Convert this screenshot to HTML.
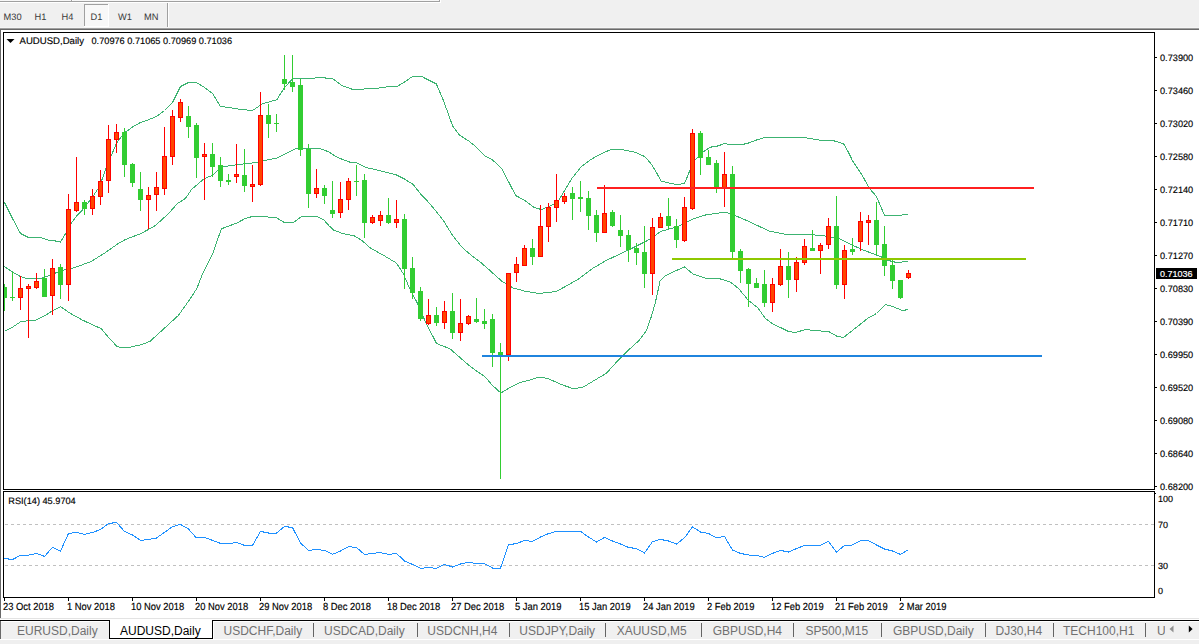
<!DOCTYPE html>
<html><head><meta charset="utf-8"><style>
html,body{margin:0;padding:0;width:1199px;height:644px;overflow:hidden;background:#f0f0f0;font-family:"Liberation Sans", sans-serif;}
svg{display:block}
svg text{shape-rendering:auto}
polyline{shape-rendering:crispEdges}
</style></head><body>
<svg width="1199" height="644" viewBox="0 0 1199 644" shape-rendering="crispEdges" font-family='"Liberation Sans", sans-serif'><rect x="0" y="0" width="1199" height="644" fill="#f0f0f0" />
<rect x="0" y="0" width="440" height="1" fill="#f7f7f7" />
<rect x="0" y="1" width="440" height="1" fill="#a0a0a0" />
<rect x="0" y="2" width="441" height="1" fill="#ffffff" />
<rect x="439" y="0" width="1" height="2" fill="#a0a0a0" />
<rect x="440" y="0" width="1" height="3" fill="#ffffff" />
<rect x="71" y="0" width="1" height="1" fill="#a0a0a0" />
<rect x="72" y="0" width="1" height="1" fill="#ffffff" />
<rect x="84" y="4" width="25" height="23" fill="#f8f8f8" />
<rect x="84" y="4" width="25" height="1" fill="#a0a0a0" />
<rect x="84" y="4" width="1" height="23" fill="#a0a0a0" />
<rect x="84" y="26" width="25" height="1" fill="#ffffff" />
<rect x="108" y="4" width="1" height="23" fill="#ffffff" />
<text x="3.5" y="19.8" font-size="9.3" fill="#3a3a3a" text-anchor="start" text-rendering="geometricPrecision">M30</text>
<text x="34.5" y="19.8" font-size="9.3" fill="#3a3a3a" text-anchor="start" text-rendering="geometricPrecision">H1</text>
<text x="61.5" y="19.8" font-size="9.3" fill="#3a3a3a" text-anchor="start" text-rendering="geometricPrecision">H4</text>
<text x="90.5" y="19.8" font-size="9.3" fill="#3a3a3a" text-anchor="start" text-rendering="geometricPrecision">D1</text>
<text x="118" y="19.8" font-size="9.3" fill="#3a3a3a" text-anchor="start" text-rendering="geometricPrecision">W1</text>
<text x="144" y="19.8" font-size="9.3" fill="#3a3a3a" text-anchor="start" text-rendering="geometricPrecision">MN</text>
<rect x="167" y="3" width="1" height="25" fill="#a0a0a0" />
<rect x="168" y="3" width="1" height="25" fill="#ffffff" />
<rect x="0" y="27" width="1199" height="1" fill="#f5f5f5" />
<rect x="0" y="28" width="1199" height="1" fill="#a0a0a0" />
<rect x="0" y="29" width="1199" height="1" fill="#696969" />
<rect x="0" y="29" width="1" height="589" fill="#696969" />
<rect x="1" y="30" width="1198" height="588" fill="#ffffff" />
<defs><clipPath id="cm"><rect x="4" y="33" width="1150" height="456"/></clipPath><clipPath id="cr"><rect x="4" y="492" width="1150" height="105"/></clipPath></defs>
<g clip-path="url(#cm)">
<polyline points="4.5,202.5 12.5,218.5 20.5,233.5 27.5,237.0 38.5,237.0 48.5,240.1 55.5,241.0 60.5,242.0 67.0,231.1 71.7,222.7 77.3,215.2 82.8,209.6 88.4,202.2 94.0,194.7 99.6,186.4 105.2,170.5 110.8,156.6 116.4,143.5 123.8,133.3 134.2,125.9 140.5,122.5 145.9,120.8 156.5,116.5 164.5,110.5 172.5,102.5 180.5,86.5 188.5,82.5 196.5,82.5 204.5,87.5 212.5,93.5 220.5,106.5 228.5,107.5 240.5,109.5 252.5,110.5 262.7,103.7 276.8,99.8 283.8,88.5 293.1,78.0 304.8,78.7 321.2,77.6 332.8,78.7 342.2,85.7 351.5,89.0 363.9,89.0 375.5,88.5 387.2,86.9 396.5,86.7 403.5,82.7 412.9,76.2 421.1,76.2 429.3,80.4 436.3,83.9 443.3,100.2 448.0,113.1 452.6,125.9 459.7,135.3 469.0,141.1 476.0,146.9 485.4,156.3 492.4,159.8 501.7,168.5 508.7,182.0 515.7,195.5 525.1,200.7 534.4,207.7 541.5,209.5 550.8,205.8 557.8,201.9 564.8,190.2 571.8,178.5 581.2,166.8 590.5,159.8 599.8,154.4 611.0,149.5 623.9,150.0 635.5,152.4 644.9,156.6 651.9,164.8 656.6,172.9 661.2,181.1 670.6,183.4 677.6,184.6 684.6,183.4 689.3,171.8 694.0,161.2 703.3,151.9 710.3,147.2 717.3,146.1 724.3,143.7 731.3,144.4 740.5,145.0 748.5,143.0 756.5,140.0 763.2,138.0 787.5,137.9 806.1,137.9 820.1,140.2 834.1,140.9 843.5,143.7 848.2,151.9 852.8,161.2 862.2,175.3 869.2,188.1 876.5,196.5 884.5,215.5 896.5,215.5 908.5,214.5" fill="none" stroke="#3cb371" stroke-width="1" />
<polyline points="4.5,266.5 12.2,271.9 20.4,276.5 28.0,278.9 39.0,278.9 49.5,275.4 61.2,270.7 71.8,268.4 82.3,264.8 91.5,261.3 105.5,252.5 117.3,244.2 125.5,239.5 140.5,233.7 148.5,229.5 155.5,225.5 168.5,213.5 177.5,203.5 185.5,198.4 191.5,189.5 204.3,178.5 212.5,175.5 220.7,167.5 224.5,166.5 244.1,163.8 255.7,162.6 267.5,159.8 276.8,158.2 286.1,153.5 295.5,148.8 304.8,148.1 318.8,148.1 328.2,151.6 337.5,157.5 340.5,158.6 349.8,162.1 356.9,162.8 366.2,167.5 380.2,170.8 395.4,174.5 403.6,178.5 412.9,184.3 422.3,196.0 426.9,200.5 434.0,208.7 443.3,220.4 452.6,235.5 462.0,247.2 471.3,255.4 480.7,262.4 490.0,270.6 501.7,281.1 513.4,288.1 525.1,291.2 539.1,293.5 555.5,291.6 564.8,286.9 578.8,278.8 592.8,268.3 606.9,260.1 620.5,253.8 628.5,250.0 647.2,240.7 661.2,231.3 677.6,226.7 694.0,218.5 705.6,215.0 724.3,212.2 731.3,213.8 750.0,222.0 768.7,230.9 787.5,234.8 806.1,234.1 824.8,236.0 838.8,238.4 852.8,245.4 864.5,250.5 880.5,256.5 888.5,260.5 896.5,262.5 908.5,261.5" fill="none" stroke="#3cb371" stroke-width="1" />
<polyline points="4.5,331.3 12.2,327.4 21.5,321.1 31.5,320.9 36.7,319.8 44.9,315.7 51.9,311.0 60.7,306.8 70.5,313.5 82.3,320.0 94.0,325.5 101.0,328.5 108.0,336.7 117.3,346.8 126.7,347.9 140.5,344.9 150.0,341.4 164.1,328.5 178.1,315.7 189.5,299.9 196.8,288.5 203.3,272.1 213.1,252.6 221.3,228.9 229.4,225.7 235.9,223.5 244.1,219.1 251.4,216.7 265.3,216.7 276.7,218.0 284.9,222.9 293.0,222.9 301.2,216.7 317.5,216.7 324.0,220.0 328.9,225.7 333.8,230.1 341.9,233.3 354.5,236.0 361.5,240.2 370.9,248.4 382.5,254.7 396.5,263.1 403.5,274.1 410.5,290.5 417.5,303.3 424.5,319.7 431.5,333.7 436.3,343.0 440.5,345.1 449.8,348.6 459.2,356.8 468.5,365.0 477.9,372.0 484.9,376.7 491.9,384.8 500.8,393.0 510.6,387.2 519.9,382.5 529.3,380.2 538.6,377.1 548.0,378.5 562.0,384.8 573.7,388.8 583.0,387.2 594.7,380.2 606.4,373.2 618.1,360.3 627.4,351.0 639.1,340.5 646.1,331.1 650.8,318.3 655.5,301.9 660.1,280.9 664.8,276.2 674.1,271.5 684.7,266.9 692.8,273.9 706.9,278.5 720.5,279.0 730.5,282.2 738.5,288.5 748.5,300.5 757.5,307.5 765.5,318.5 773.5,324.5 780.5,327.5 788.5,331.5 795.5,332.5 805.5,329.5 813.5,330.5 828.5,331.5 837.5,336.5 843.5,337.5 857.5,326.5 867.5,318.5 876.5,313.5 885.5,304.5 892.5,306.5 902.5,310.5 908.5,309.5" fill="none" stroke="#3cb371" stroke-width="1" />
<rect x="4" y="284" width="1" height="27" fill="#32cd32" />
<rect x="2" y="287" width="5" height="11" fill="#32cd32" />
<rect x="12" y="272" width="1" height="29" fill="#32cd32" />
<rect x="10" y="297" width="5" height="1" fill="#32cd32" />
<rect x="20" y="276" width="1" height="34" fill="#ff0000" />
<rect x="18" y="288" width="5" height="10" fill="#ff0000" />
<rect x="19" y="289" width="3" height="8" fill="#ff4500" />
<rect x="28" y="284" width="1" height="54" fill="#ff0000" />
<rect x="26" y="286" width="5" height="3" fill="#ff0000" />
<rect x="27" y="287" width="3" height="1" fill="#ff4500" />
<rect x="36" y="273" width="1" height="16" fill="#ff0000" />
<rect x="34" y="281" width="5" height="7" fill="#ff0000" />
<rect x="35" y="282" width="3" height="5" fill="#ff4500" />
<rect x="44" y="269" width="1" height="28" fill="#32cd32" />
<rect x="42" y="278" width="5" height="19" fill="#32cd32" />
<rect x="52" y="259" width="1" height="56" fill="#ff0000" />
<rect x="50" y="268" width="5" height="28" fill="#ff0000" />
<rect x="51" y="269" width="3" height="26" fill="#ff4500" />
<rect x="60" y="264" width="1" height="35" fill="#32cd32" />
<rect x="58" y="267" width="5" height="18" fill="#32cd32" />
<rect x="68" y="194" width="1" height="107" fill="#ff0000" />
<rect x="66" y="209" width="5" height="76" fill="#ff0000" />
<rect x="67" y="210" width="3" height="74" fill="#ff4500" />
<rect x="76" y="157" width="1" height="55" fill="#ff0000" />
<rect x="74" y="202" width="5" height="9" fill="#ff0000" />
<rect x="75" y="203" width="3" height="7" fill="#ff4500" />
<rect x="84" y="200" width="1" height="15" fill="#32cd32" />
<rect x="82" y="202" width="5" height="7" fill="#32cd32" />
<rect x="92" y="189" width="1" height="26" fill="#ff0000" />
<rect x="90" y="196" width="5" height="13" fill="#ff0000" />
<rect x="91" y="197" width="3" height="11" fill="#ff4500" />
<rect x="100" y="170" width="1" height="35" fill="#ff0000" />
<rect x="98" y="181" width="5" height="16" fill="#ff0000" />
<rect x="99" y="182" width="3" height="14" fill="#ff4500" />
<rect x="108" y="125" width="1" height="68" fill="#ff0000" />
<rect x="106" y="139" width="5" height="42" fill="#ff0000" />
<rect x="107" y="140" width="3" height="40" fill="#ff4500" />
<rect x="116" y="124" width="1" height="29" fill="#ff0000" />
<rect x="114" y="132" width="5" height="8" fill="#ff0000" />
<rect x="115" y="133" width="3" height="6" fill="#ff4500" />
<rect x="124" y="128" width="1" height="49" fill="#32cd32" />
<rect x="122" y="132" width="5" height="33" fill="#32cd32" />
<rect x="132" y="163" width="1" height="24" fill="#32cd32" />
<rect x="130" y="164" width="5" height="19" fill="#32cd32" />
<rect x="140" y="172" width="1" height="39" fill="#32cd32" />
<rect x="138" y="189" width="5" height="11" fill="#32cd32" />
<rect x="148" y="187" width="1" height="42" fill="#ff0000" />
<rect x="146" y="195" width="5" height="5" fill="#ff0000" />
<rect x="147" y="196" width="3" height="3" fill="#ff4500" />
<rect x="156" y="172" width="1" height="39" fill="#ff0000" />
<rect x="154" y="187" width="5" height="8" fill="#ff0000" />
<rect x="155" y="188" width="3" height="6" fill="#ff4500" />
<rect x="164" y="127" width="1" height="68" fill="#ff0000" />
<rect x="162" y="156" width="5" height="33" fill="#ff0000" />
<rect x="163" y="157" width="3" height="31" fill="#ff4500" />
<rect x="172" y="110" width="1" height="55" fill="#ff0000" />
<rect x="170" y="116" width="5" height="41" fill="#ff0000" />
<rect x="171" y="117" width="3" height="39" fill="#ff4500" />
<rect x="180" y="99" width="1" height="23" fill="#ff0000" />
<rect x="178" y="102" width="5" height="16" fill="#ff0000" />
<rect x="179" y="103" width="3" height="14" fill="#ff4500" />
<rect x="188" y="106" width="1" height="32" fill="#32cd32" />
<rect x="186" y="116" width="5" height="11" fill="#32cd32" />
<rect x="196" y="123" width="1" height="55" fill="#32cd32" />
<rect x="194" y="125" width="5" height="33" fill="#32cd32" />
<rect x="204" y="143" width="1" height="57" fill="#ff0000" />
<rect x="202" y="154" width="5" height="3" fill="#ff0000" />
<rect x="203" y="155" width="3" height="1" fill="#ff4500" />
<rect x="212" y="143" width="1" height="34" fill="#32cd32" />
<rect x="210" y="154" width="5" height="13" fill="#32cd32" />
<rect x="220" y="157" width="1" height="30" fill="#32cd32" />
<rect x="218" y="165" width="5" height="16" fill="#32cd32" />
<rect x="228" y="174" width="1" height="11" fill="#32cd32" />
<rect x="226" y="180" width="5" height="2" fill="#32cd32" />
<rect x="236" y="144" width="1" height="39" fill="#ff0000" />
<rect x="234" y="174" width="5" height="3" fill="#ff0000" />
<rect x="235" y="175" width="3" height="1" fill="#ff4500" />
<rect x="244" y="149" width="1" height="43" fill="#32cd32" />
<rect x="242" y="175" width="5" height="11" fill="#32cd32" />
<rect x="252" y="165" width="1" height="37" fill="#ff0000" />
<rect x="250" y="184" width="5" height="3" fill="#ff0000" />
<rect x="251" y="185" width="3" height="1" fill="#ff4500" />
<rect x="260" y="92" width="1" height="94" fill="#ff0000" />
<rect x="258" y="115" width="5" height="70" fill="#ff0000" />
<rect x="259" y="116" width="3" height="68" fill="#ff4500" />
<rect x="268" y="104" width="1" height="34" fill="#32cd32" />
<rect x="266" y="115" width="5" height="9" fill="#32cd32" />
<rect x="276" y="114" width="1" height="18" fill="#32cd32" />
<rect x="274" y="123" width="5" height="1" fill="#32cd32" />
<rect x="284" y="55" width="1" height="35" fill="#32cd32" />
<rect x="282" y="79" width="5" height="5" fill="#32cd32" />
<rect x="292" y="55" width="1" height="37" fill="#32cd32" />
<rect x="290" y="82" width="5" height="5" fill="#32cd32" />
<rect x="300" y="79" width="1" height="77" fill="#32cd32" />
<rect x="298" y="85" width="5" height="65" fill="#32cd32" />
<rect x="308" y="144" width="1" height="64" fill="#32cd32" />
<rect x="306" y="149" width="5" height="45" fill="#32cd32" />
<rect x="316" y="169" width="1" height="29" fill="#ff0000" />
<rect x="314" y="188" width="5" height="6" fill="#ff0000" />
<rect x="315" y="189" width="3" height="4" fill="#ff4500" />
<rect x="324" y="185" width="1" height="19" fill="#32cd32" />
<rect x="322" y="188" width="5" height="8" fill="#32cd32" />
<rect x="332" y="181" width="1" height="37" fill="#32cd32" />
<rect x="330" y="210" width="5" height="4" fill="#32cd32" />
<rect x="340" y="182" width="1" height="36" fill="#ff0000" />
<rect x="338" y="199" width="5" height="14" fill="#ff0000" />
<rect x="339" y="200" width="3" height="12" fill="#ff4500" />
<rect x="348" y="178" width="1" height="32" fill="#ff0000" />
<rect x="346" y="181" width="5" height="19" fill="#ff0000" />
<rect x="347" y="182" width="3" height="17" fill="#ff4500" />
<rect x="356" y="165" width="1" height="31" fill="#32cd32" />
<rect x="354" y="181" width="5" height="1" fill="#32cd32" />
<rect x="364" y="174" width="1" height="64" fill="#32cd32" />
<rect x="362" y="180" width="5" height="43" fill="#32cd32" />
<rect x="372" y="215" width="1" height="9" fill="#ff0000" />
<rect x="370" y="217" width="5" height="6" fill="#ff0000" />
<rect x="371" y="218" width="3" height="4" fill="#ff4500" />
<rect x="380" y="211" width="1" height="15" fill="#ff0000" />
<rect x="378" y="215" width="5" height="6" fill="#ff0000" />
<rect x="379" y="216" width="3" height="4" fill="#ff4500" />
<rect x="388" y="198" width="1" height="26" fill="#32cd32" />
<rect x="386" y="215" width="5" height="8" fill="#32cd32" />
<rect x="396" y="200" width="1" height="28" fill="#ff0000" />
<rect x="394" y="219" width="5" height="4" fill="#ff0000" />
<rect x="395" y="220" width="3" height="2" fill="#ff4500" />
<rect x="404" y="214" width="1" height="75" fill="#32cd32" />
<rect x="402" y="219" width="5" height="50" fill="#32cd32" />
<rect x="412" y="257" width="1" height="42" fill="#32cd32" />
<rect x="410" y="268" width="5" height="25" fill="#32cd32" />
<rect x="420" y="287" width="1" height="34" fill="#32cd32" />
<rect x="418" y="291" width="5" height="28" fill="#32cd32" />
<rect x="428" y="299" width="1" height="26" fill="#ff0000" />
<rect x="426" y="315" width="5" height="9" fill="#ff0000" />
<rect x="427" y="316" width="3" height="7" fill="#ff4500" />
<rect x="436" y="307" width="1" height="19" fill="#32cd32" />
<rect x="434" y="315" width="5" height="8" fill="#32cd32" />
<rect x="444" y="301" width="1" height="28" fill="#ff0000" />
<rect x="442" y="311" width="5" height="12" fill="#ff0000" />
<rect x="443" y="312" width="3" height="10" fill="#ff4500" />
<rect x="452" y="293" width="1" height="46" fill="#32cd32" />
<rect x="450" y="311" width="5" height="22" fill="#32cd32" />
<rect x="460" y="299" width="1" height="42" fill="#ff0000" />
<rect x="458" y="323" width="5" height="10" fill="#ff0000" />
<rect x="459" y="324" width="3" height="8" fill="#ff4500" />
<rect x="468" y="315" width="1" height="10" fill="#ff0000" />
<rect x="466" y="316" width="5" height="8" fill="#ff0000" />
<rect x="467" y="317" width="3" height="6" fill="#ff4500" />
<rect x="476" y="298" width="1" height="25" fill="#32cd32" />
<rect x="474" y="319" width="5" height="3" fill="#32cd32" />
<rect x="484" y="309" width="1" height="20" fill="#32cd32" />
<rect x="482" y="321" width="5" height="3" fill="#32cd32" />
<rect x="492" y="314" width="1" height="53" fill="#32cd32" />
<rect x="490" y="319" width="5" height="34" fill="#32cd32" />
<rect x="500" y="343" width="1" height="136" fill="#32cd32" />
<rect x="498" y="352" width="5" height="4" fill="#32cd32" />
<rect x="508" y="273" width="1" height="88" fill="#ff0000" />
<rect x="506" y="273" width="5" height="82" fill="#ff0000" />
<rect x="507" y="274" width="3" height="80" fill="#ff4500" />
<rect x="516" y="257" width="1" height="25" fill="#ff0000" />
<rect x="514" y="264" width="5" height="9" fill="#ff0000" />
<rect x="515" y="265" width="3" height="7" fill="#ff4500" />
<rect x="524" y="245" width="1" height="21" fill="#ff0000" />
<rect x="522" y="248" width="5" height="18" fill="#ff0000" />
<rect x="523" y="249" width="3" height="16" fill="#ff4500" />
<rect x="532" y="239" width="1" height="26" fill="#32cd32" />
<rect x="530" y="248" width="5" height="9" fill="#32cd32" />
<rect x="540" y="205" width="1" height="52" fill="#ff0000" />
<rect x="538" y="226" width="5" height="31" fill="#ff0000" />
<rect x="539" y="227" width="3" height="29" fill="#ff4500" />
<rect x="548" y="203" width="1" height="39" fill="#ff0000" />
<rect x="546" y="207" width="5" height="20" fill="#ff0000" />
<rect x="547" y="208" width="3" height="18" fill="#ff4500" />
<rect x="556" y="174" width="1" height="48" fill="#ff0000" />
<rect x="554" y="200" width="5" height="8" fill="#ff0000" />
<rect x="555" y="201" width="3" height="6" fill="#ff4500" />
<rect x="564" y="193" width="1" height="11" fill="#ff0000" />
<rect x="562" y="196" width="5" height="6" fill="#ff0000" />
<rect x="563" y="197" width="3" height="4" fill="#ff4500" />
<rect x="572" y="187" width="1" height="33" fill="#32cd32" />
<rect x="570" y="193" width="5" height="6" fill="#32cd32" />
<rect x="580" y="181" width="1" height="31" fill="#32cd32" />
<rect x="578" y="197" width="5" height="2" fill="#32cd32" />
<rect x="588" y="191" width="1" height="39" fill="#32cd32" />
<rect x="586" y="198" width="5" height="18" fill="#32cd32" />
<rect x="596" y="210" width="1" height="32" fill="#32cd32" />
<rect x="594" y="215" width="5" height="18" fill="#32cd32" />
<rect x="604" y="185" width="1" height="48" fill="#ff0000" />
<rect x="602" y="213" width="5" height="20" fill="#ff0000" />
<rect x="603" y="214" width="3" height="18" fill="#ff4500" />
<rect x="612" y="210" width="1" height="17" fill="#32cd32" />
<rect x="610" y="212" width="5" height="14" fill="#32cd32" />
<rect x="620" y="215" width="1" height="32" fill="#32cd32" />
<rect x="618" y="230" width="5" height="6" fill="#32cd32" />
<rect x="628" y="230" width="1" height="32" fill="#32cd32" />
<rect x="626" y="235" width="5" height="15" fill="#32cd32" />
<rect x="636" y="243" width="1" height="22" fill="#32cd32" />
<rect x="634" y="248" width="5" height="5" fill="#32cd32" />
<rect x="644" y="226" width="1" height="62" fill="#32cd32" />
<rect x="642" y="252" width="5" height="22" fill="#32cd32" />
<rect x="652" y="218" width="1" height="77" fill="#ff0000" />
<rect x="650" y="227" width="5" height="47" fill="#ff0000" />
<rect x="651" y="228" width="3" height="45" fill="#ff4500" />
<rect x="660" y="213" width="1" height="15" fill="#ff0000" />
<rect x="658" y="217" width="5" height="11" fill="#ff0000" />
<rect x="659" y="218" width="3" height="9" fill="#ff4500" />
<rect x="668" y="198" width="1" height="31" fill="#32cd32" />
<rect x="666" y="216" width="5" height="10" fill="#32cd32" />
<rect x="676" y="219" width="1" height="29" fill="#32cd32" />
<rect x="674" y="226" width="5" height="14" fill="#32cd32" />
<rect x="684" y="197" width="1" height="45" fill="#ff0000" />
<rect x="682" y="207" width="5" height="34" fill="#ff0000" />
<rect x="683" y="208" width="3" height="32" fill="#ff4500" />
<rect x="692" y="129" width="1" height="81" fill="#ff0000" />
<rect x="690" y="133" width="5" height="76" fill="#ff0000" />
<rect x="691" y="134" width="3" height="74" fill="#ff4500" />
<rect x="700" y="131" width="1" height="44" fill="#32cd32" />
<rect x="698" y="133" width="5" height="25" fill="#32cd32" />
<rect x="708" y="150" width="1" height="15" fill="#32cd32" />
<rect x="706" y="157" width="5" height="8" fill="#32cd32" />
<rect x="716" y="160" width="1" height="33" fill="#32cd32" />
<rect x="714" y="163" width="5" height="25" fill="#32cd32" />
<rect x="724" y="152" width="1" height="55" fill="#ff0000" />
<rect x="722" y="174" width="5" height="14" fill="#ff0000" />
<rect x="723" y="175" width="3" height="12" fill="#ff4500" />
<rect x="732" y="166" width="1" height="93" fill="#32cd32" />
<rect x="730" y="174" width="5" height="78" fill="#32cd32" />
<rect x="740" y="249" width="1" height="34" fill="#32cd32" />
<rect x="738" y="251" width="5" height="20" fill="#32cd32" />
<rect x="748" y="268" width="1" height="39" fill="#32cd32" />
<rect x="746" y="269" width="5" height="15" fill="#32cd32" />
<rect x="756" y="278" width="1" height="10" fill="#32cd32" />
<rect x="754" y="283" width="5" height="5" fill="#32cd32" />
<rect x="764" y="270" width="1" height="37" fill="#32cd32" />
<rect x="762" y="284" width="5" height="19" fill="#32cd32" />
<rect x="772" y="278" width="1" height="34" fill="#ff0000" />
<rect x="770" y="284" width="5" height="19" fill="#ff0000" />
<rect x="771" y="285" width="3" height="17" fill="#ff4500" />
<rect x="780" y="249" width="1" height="37" fill="#ff0000" />
<rect x="778" y="266" width="5" height="19" fill="#ff0000" />
<rect x="779" y="267" width="3" height="17" fill="#ff4500" />
<rect x="788" y="252" width="1" height="46" fill="#32cd32" />
<rect x="786" y="266" width="5" height="14" fill="#32cd32" />
<rect x="796" y="257" width="1" height="35" fill="#ff0000" />
<rect x="794" y="262" width="5" height="18" fill="#ff0000" />
<rect x="795" y="263" width="3" height="16" fill="#ff4500" />
<rect x="804" y="239" width="1" height="26" fill="#ff0000" />
<rect x="802" y="246" width="5" height="17" fill="#ff0000" />
<rect x="803" y="247" width="3" height="15" fill="#ff4500" />
<rect x="812" y="230" width="1" height="21" fill="#32cd32" />
<rect x="810" y="248" width="5" height="3" fill="#32cd32" />
<rect x="820" y="243" width="1" height="31" fill="#ff0000" />
<rect x="818" y="245" width="5" height="6" fill="#ff0000" />
<rect x="819" y="246" width="3" height="4" fill="#ff4500" />
<rect x="828" y="218" width="1" height="31" fill="#ff0000" />
<rect x="826" y="226" width="5" height="19" fill="#ff0000" />
<rect x="827" y="227" width="3" height="17" fill="#ff4500" />
<rect x="836" y="196" width="1" height="93" fill="#32cd32" />
<rect x="834" y="226" width="5" height="59" fill="#32cd32" />
<rect x="844" y="245" width="1" height="54" fill="#ff0000" />
<rect x="842" y="250" width="5" height="35" fill="#ff0000" />
<rect x="843" y="251" width="3" height="33" fill="#ff4500" />
<rect x="852" y="238" width="1" height="17" fill="#32cd32" />
<rect x="850" y="249" width="5" height="3" fill="#32cd32" />
<rect x="860" y="212" width="1" height="39" fill="#ff0000" />
<rect x="858" y="221" width="5" height="21" fill="#ff0000" />
<rect x="859" y="222" width="3" height="19" fill="#ff4500" />
<rect x="868" y="215" width="1" height="30" fill="#ff0000" />
<rect x="866" y="220" width="5" height="3" fill="#ff0000" />
<rect x="867" y="221" width="3" height="1" fill="#ff4500" />
<rect x="876" y="202" width="1" height="53" fill="#32cd32" />
<rect x="874" y="220" width="5" height="25" fill="#32cd32" />
<rect x="884" y="226" width="1" height="50" fill="#32cd32" />
<rect x="882" y="244" width="5" height="22" fill="#32cd32" />
<rect x="892" y="259" width="1" height="30" fill="#32cd32" />
<rect x="890" y="265" width="5" height="16" fill="#32cd32" />
<rect x="900" y="280" width="1" height="19" fill="#32cd32" />
<rect x="898" y="280" width="5" height="18" fill="#32cd32" />
<rect x="908" y="270" width="1" height="9" fill="#ff0000" />
<rect x="906" y="273" width="5" height="5" fill="#ff0000" />
<rect x="907" y="274" width="3" height="3" fill="#ff4500" />
<rect x="597" y="187" width="437" height="2" fill="#ff2020" />
<rect x="672" y="258" width="354" height="2" fill="#8fc800" />
<rect x="482" y="355" width="560" height="2" fill="#1f84de" />
</g>
<path d="M6.5,39 L14.5,39 L10.5,43 Z" fill="#000" shape-rendering="auto"/>
<text x="19.5" y="43.5" font-size="9.6" fill="#000" text-anchor="start" stroke="#000" stroke-width="0.15" text-rendering="geometricPrecision">AUDUSD,Daily</text>
<text x="91.5" y="43.5" font-size="9.2" fill="#000" text-anchor="start" stroke="#000" stroke-width="0.15" text-rendering="geometricPrecision">0.70976 0.71065 0.70969 0.71036</text>
<g clip-path="url(#cr)">
<line x1="5" y1="524.5" x2="1154" y2="524.5" stroke="#c0c0c0" stroke-width="1" stroke-dasharray="3,3"/>
<line x1="5" y1="565.5" x2="1154" y2="565.5" stroke="#c0c0c0" stroke-width="1" stroke-dasharray="3,3"/>
<polyline points="4.5,558.4 12.5,559.6 20.5,555.2 28.5,555.2 36.5,553.4 44.5,556.4 52.5,547.4 60.5,551 68.5,533.4 76.5,532.4 84.5,534.4 92.5,532.4 100.5,529.6 108.5,523.6 116.5,522.4 124.5,531.4 132.5,535 140.5,540.4 148.5,539.4 156.5,538 164.5,532.4 172.5,526.6 180.5,524.4 188.5,529 196.5,538 204.5,537.4 212.5,540.4 220.5,543.4 228.5,544 236.5,542.4 244.5,545.4 252.5,545.4 260.5,531.4 268.5,533 276.5,533 284.5,526.4 292.5,527.6 300.5,543 308.5,550.4 316.5,549.4 324.5,550.4 332.5,554.4 340.5,551 348.5,546.6 356.5,547.6 364.5,554.4 372.5,553.4 380.5,552.6 388.5,554.4 396.5,553.4 404.5,561 412.5,564.4 420.5,568.4 428.5,567.4 436.5,568.4 444.5,564.4 452.5,567 460.5,564 468.5,562.4 476.5,563.4 484.5,563.6 492.5,568 500.5,568 508.5,545 516.5,543.4 524.5,540.6 532.5,541.4 540.5,537 548.5,533.6 556.5,531.4 564.5,531.4 572.5,531.4 580.5,531.4 588.5,537 596.5,542 604.5,537.4 612.5,541 620.5,544 628.5,547.4 636.5,548.6 644.5,553 652.5,541.6 660.5,539.4 668.5,541 676.5,544 684.5,537.8 692.5,526.8 700.5,532 708.5,533.4 716.5,538 724.5,536.4 732.5,550 740.5,553.4 748.5,555 756.5,555.4 764.5,557.4 772.5,553.4 780.5,550.4 788.5,552 796.5,548.6 804.5,545.4 812.5,545.4 820.5,545.4 828.5,541.4 836.5,552 844.5,545.4 852.5,545 860.5,540.6 868.5,540.6 876.5,545 884.5,549 892.5,551 900.5,554.4 908.5,549.6" fill="none" stroke="#1e90ff" stroke-width="1" />
</g>
<text x="8.3" y="503.8" font-size="9.2" fill="#000" text-anchor="start" stroke="#000" stroke-width="0.15" text-rendering="geometricPrecision">RSI(14) 45.9704</text>
<rect x="3" y="32" width="1152" height="1" fill="#000" />
<rect x="3" y="489" width="1152" height="1" fill="#000" />
<rect x="3" y="32" width="1" height="458" fill="#000" />
<rect x="1154" y="32" width="1" height="458" fill="#000" />
<rect x="3" y="491" width="1152" height="1" fill="#000" />
<rect x="3" y="597" width="1152" height="1" fill="#000" />
<rect x="3" y="491" width="1" height="107" fill="#000" />
<rect x="1154" y="491" width="1" height="107" fill="#000" />
<rect x="1155" y="57" width="2" height="1" fill="#000" />
<text x="1160" y="61.1" font-size="9.2" fill="#000" text-anchor="start" stroke="#000" stroke-width="0.15" text-rendering="geometricPrecision">0.73900</text>
<rect x="1155" y="90" width="2" height="1" fill="#000" />
<text x="1160" y="94.1" font-size="9.2" fill="#000" text-anchor="start" stroke="#000" stroke-width="0.15" text-rendering="geometricPrecision">0.73460</text>
<rect x="1155" y="123" width="2" height="1" fill="#000" />
<text x="1160" y="127.1" font-size="9.2" fill="#000" text-anchor="start" stroke="#000" stroke-width="0.15" text-rendering="geometricPrecision">0.73020</text>
<rect x="1155" y="156" width="2" height="1" fill="#000" />
<text x="1160" y="160.1" font-size="9.2" fill="#000" text-anchor="start" stroke="#000" stroke-width="0.15" text-rendering="geometricPrecision">0.72580</text>
<rect x="1155" y="189" width="2" height="1" fill="#000" />
<text x="1160" y="193.1" font-size="9.2" fill="#000" text-anchor="start" stroke="#000" stroke-width="0.15" text-rendering="geometricPrecision">0.72140</text>
<rect x="1155" y="222" width="2" height="1" fill="#000" />
<text x="1160" y="226.1" font-size="9.2" fill="#000" text-anchor="start" stroke="#000" stroke-width="0.15" text-rendering="geometricPrecision">0.71710</text>
<rect x="1155" y="255" width="2" height="1" fill="#000" />
<text x="1160" y="259.1" font-size="9.2" fill="#000" text-anchor="start" stroke="#000" stroke-width="0.15" text-rendering="geometricPrecision">0.71270</text>
<rect x="1155" y="288" width="2" height="1" fill="#000" />
<text x="1160" y="292.1" font-size="9.2" fill="#000" text-anchor="start" stroke="#000" stroke-width="0.15" text-rendering="geometricPrecision">0.70830</text>
<rect x="1155" y="321" width="2" height="1" fill="#000" />
<text x="1160" y="325.1" font-size="9.2" fill="#000" text-anchor="start" stroke="#000" stroke-width="0.15" text-rendering="geometricPrecision">0.70390</text>
<rect x="1155" y="354" width="2" height="1" fill="#000" />
<text x="1160" y="358.1" font-size="9.2" fill="#000" text-anchor="start" stroke="#000" stroke-width="0.15" text-rendering="geometricPrecision">0.69950</text>
<rect x="1155" y="387" width="2" height="1" fill="#000" />
<text x="1160" y="391.1" font-size="9.2" fill="#000" text-anchor="start" stroke="#000" stroke-width="0.15" text-rendering="geometricPrecision">0.69520</text>
<rect x="1155" y="420" width="2" height="1" fill="#000" />
<text x="1160" y="424.1" font-size="9.2" fill="#000" text-anchor="start" stroke="#000" stroke-width="0.15" text-rendering="geometricPrecision">0.69080</text>
<rect x="1155" y="453" width="2" height="1" fill="#000" />
<text x="1160" y="457.1" font-size="9.2" fill="#000" text-anchor="start" stroke="#000" stroke-width="0.15" text-rendering="geometricPrecision">0.68640</text>
<rect x="1155" y="486" width="2" height="1" fill="#000" />
<text x="1160" y="490.1" font-size="9.2" fill="#000" text-anchor="start" stroke="#000" stroke-width="0.15" text-rendering="geometricPrecision">0.68200</text>
<rect x="1156" y="268" width="41" height="11" fill="#000" />
<text x="1160" y="277" font-size="9" fill="#fff" text-anchor="start" stroke="#fff" stroke-width="0.2">0.71036</text>
<rect x="1155" y="493" width="1" height="1" fill="#000" />
<text x="1158" y="501.8" font-size="9" fill="#000" text-anchor="start" stroke="#000" stroke-width="0.15" text-rendering="geometricPrecision">100</text>
<text x="1158" y="527.8" font-size="9" fill="#000" text-anchor="start" stroke="#000" stroke-width="0.15" text-rendering="geometricPrecision">70</text>
<text x="1158" y="568.5999999999999" font-size="9" fill="#000" text-anchor="start" stroke="#000" stroke-width="0.15" text-rendering="geometricPrecision">30</text>
<text x="1158" y="594.0999999999999" font-size="9" fill="#000" text-anchor="start" stroke="#000" stroke-width="0.15" text-rendering="geometricPrecision">0</text>
<rect x="4" y="598" width="1" height="3" fill="#000" />
<text transform="translate(3,609.6) scale(1,1.1)" font-size="9.4" fill="#000" text-anchor="start" stroke="#000" stroke-width="0.15" text-rendering="geometricPrecision">23 Oct 2018</text>
<rect x="68" y="598" width="1" height="3" fill="#000" />
<text transform="translate(67,609.6) scale(1,1.1)" font-size="9.4" fill="#000" text-anchor="start" stroke="#000" stroke-width="0.15" text-rendering="geometricPrecision">1 Nov 2018</text>
<rect x="132" y="598" width="1" height="3" fill="#000" />
<text transform="translate(131,609.6) scale(1,1.1)" font-size="9.4" fill="#000" text-anchor="start" stroke="#000" stroke-width="0.15" text-rendering="geometricPrecision">10 Nov 2018</text>
<rect x="196" y="598" width="1" height="3" fill="#000" />
<text transform="translate(195,609.6) scale(1,1.1)" font-size="9.4" fill="#000" text-anchor="start" stroke="#000" stroke-width="0.15" text-rendering="geometricPrecision">20 Nov 2018</text>
<rect x="260" y="598" width="1" height="3" fill="#000" />
<text transform="translate(259,609.6) scale(1,1.1)" font-size="9.4" fill="#000" text-anchor="start" stroke="#000" stroke-width="0.15" text-rendering="geometricPrecision">29 Nov 2018</text>
<rect x="324" y="598" width="1" height="3" fill="#000" />
<text transform="translate(323,609.6) scale(1,1.1)" font-size="9.4" fill="#000" text-anchor="start" stroke="#000" stroke-width="0.15" text-rendering="geometricPrecision">8 Dec 2018</text>
<rect x="388" y="598" width="1" height="3" fill="#000" />
<text transform="translate(387,609.6) scale(1,1.1)" font-size="9.4" fill="#000" text-anchor="start" stroke="#000" stroke-width="0.15" text-rendering="geometricPrecision">18 Dec 2018</text>
<rect x="452" y="598" width="1" height="3" fill="#000" />
<text transform="translate(451,609.6) scale(1,1.1)" font-size="9.4" fill="#000" text-anchor="start" stroke="#000" stroke-width="0.15" text-rendering="geometricPrecision">27 Dec 2018</text>
<rect x="516" y="598" width="1" height="3" fill="#000" />
<text transform="translate(515,609.6) scale(1,1.1)" font-size="9.4" fill="#000" text-anchor="start" stroke="#000" stroke-width="0.15" text-rendering="geometricPrecision">5 Jan 2019</text>
<rect x="580" y="598" width="1" height="3" fill="#000" />
<text transform="translate(579,609.6) scale(1,1.1)" font-size="9.4" fill="#000" text-anchor="start" stroke="#000" stroke-width="0.15" text-rendering="geometricPrecision">15 Jan 2019</text>
<rect x="644" y="598" width="1" height="3" fill="#000" />
<text transform="translate(643,609.6) scale(1,1.1)" font-size="9.4" fill="#000" text-anchor="start" stroke="#000" stroke-width="0.15" text-rendering="geometricPrecision">24 Jan 2019</text>
<rect x="708" y="598" width="1" height="3" fill="#000" />
<text transform="translate(707,609.6) scale(1,1.1)" font-size="9.4" fill="#000" text-anchor="start" stroke="#000" stroke-width="0.15" text-rendering="geometricPrecision">2 Feb 2019</text>
<rect x="772" y="598" width="1" height="3" fill="#000" />
<text transform="translate(771,609.6) scale(1,1.1)" font-size="9.4" fill="#000" text-anchor="start" stroke="#000" stroke-width="0.15" text-rendering="geometricPrecision">12 Feb 2019</text>
<rect x="836" y="598" width="1" height="3" fill="#000" />
<text transform="translate(835,609.6) scale(1,1.1)" font-size="9.4" fill="#000" text-anchor="start" stroke="#000" stroke-width="0.15" text-rendering="geometricPrecision">21 Feb 2019</text>
<rect x="900" y="598" width="1" height="3" fill="#000" />
<text transform="translate(899,609.6) scale(1,1.1)" font-size="9.4" fill="#000" text-anchor="start" stroke="#000" stroke-width="0.15" text-rendering="geometricPrecision">2 Mar 2019</text>
<rect x="0" y="618" width="1199" height="1" fill="#e3e3e3" />
<rect x="0" y="619" width="1199" height="1" fill="#ffffff" />
<rect x="0" y="620" width="1199" height="1" fill="#000000" />
<rect x="0" y="621" width="1199" height="1" fill="#ffffff" />
<rect x="1" y="622" width="1198" height="17" fill="#f0f0f0" />
<rect x="0" y="621" width="1" height="18" fill="#696969" />
<rect x="0" y="639" width="1199" height="1" fill="#ffffff" />
<rect x="0" y="640" width="1199" height="4" fill="#efefef" />
<rect x="110" y="619" width="102" height="19" fill="#ffffff" />
<rect x="109" y="620" width="1" height="19" fill="#000" />
<rect x="212" y="620" width="1" height="19" fill="#000" />
<rect x="109" y="638" width="104" height="1" fill="#000" />
<rect x="213" y="621" width="1" height="18" fill="#ffffff" />
<text x="17" y="634.7" font-size="12" fill="#707070" text-anchor="start" >EURUSD,Daily</text>
<text x="120" y="634.7" font-size="12" fill="#000" text-anchor="start" >AUDUSD,Daily</text>
<text x="223.5" y="634.7" font-size="12" fill="#707070" text-anchor="start" >USDCHF,Daily</text>
<text x="324" y="634.7" font-size="12" fill="#707070" text-anchor="start" >USDCAD,Daily</text>
<text x="427.3" y="634.7" font-size="12" fill="#707070" text-anchor="start" >USDCNH,H4</text>
<text x="519.3" y="634.7" font-size="12" fill="#707070" text-anchor="start" >USDJPY,Daily</text>
<text x="616.7" y="634.7" font-size="12" fill="#707070" text-anchor="start" >XAUUSD,M5</text>
<text x="712.7" y="634.7" font-size="12" fill="#707070" text-anchor="start" >GBPUSD,H4</text>
<text x="805.4" y="634.7" font-size="12" fill="#707070" text-anchor="start" >SP500,M15</text>
<text x="893" y="634.7" font-size="12" fill="#707070" text-anchor="start" >GBPUSD,Daily</text>
<text x="995.5" y="634.7" font-size="12" fill="#707070" text-anchor="start" >DJ30,H4</text>
<text x="1063" y="634.7" font-size="12" fill="#707070" text-anchor="start" >TECH100,H1</text>
<text x="1157" y="634.7" font-size="12" fill="#707070" text-anchor="start" >U</text>
<rect x="313" y="623" width="1" height="14" fill="#646464" />
<rect x="417" y="623" width="1" height="14" fill="#646464" />
<rect x="509" y="623" width="1" height="14" fill="#646464" />
<rect x="605" y="623" width="1" height="14" fill="#646464" />
<rect x="701" y="623" width="1" height="14" fill="#646464" />
<rect x="793" y="623" width="1" height="14" fill="#646464" />
<rect x="881" y="623" width="1" height="14" fill="#646464" />
<rect x="985" y="623" width="1" height="14" fill="#646464" />
<rect x="1053" y="623" width="1" height="14" fill="#646464" />
<rect x="1145" y="623" width="1" height="14" fill="#646464" />
<rect x="1165" y="622" width="34" height="17" fill="#f0f0f0" />
<path d="M1173.5,625.5 L1173.5,632.5 L1169.5,629 Z" fill="#909090" shape-rendering="auto"/>
<path d="M1188.8,625.5 L1188.8,632.5 L1192.6,629 Z" fill="#000" shape-rendering="auto"/></svg>
</body></html>
